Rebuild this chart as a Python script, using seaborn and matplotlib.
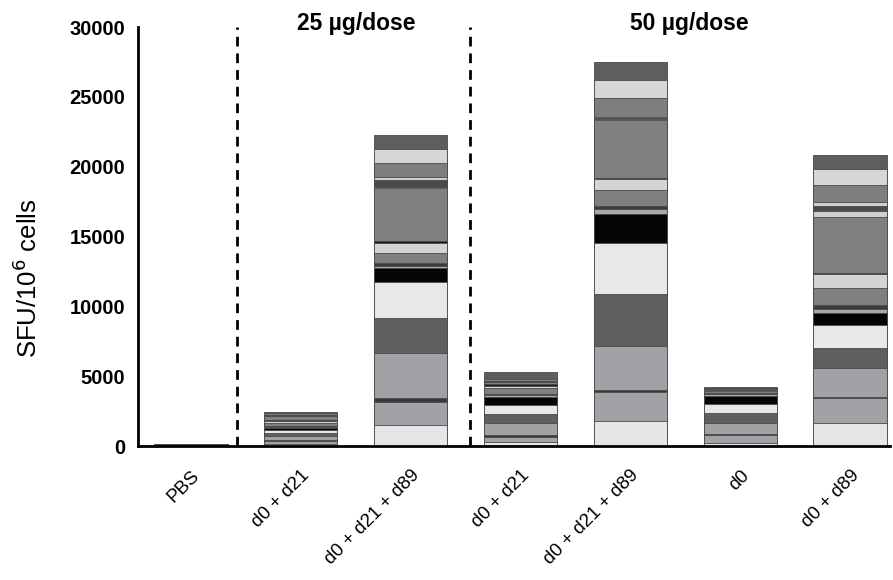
import matplotlib
matplotlib.use("Agg")
import matplotlib.pyplot as plt
import matplotlib.transforms as mtransforms
import seaborn as sns
import numpy as np

# ---- data ----
group_ids = ["g0", "g1", "g2", "g3", "g4", "g5", "g6"]
tick_labels = ["PBS", "d0 + d21", "d0 + d21 + d89", "d0 + d21",
               "d0 + d21 + d89", "d0", "d0 + d89"]
header_25 = "25 µg/dose"
header_50 = "50 µg/dose"

# peptide-pool fill colours, bottom -> top
pool_colors = ["#e6e6e6", "#a2a2a6", "#3a3a3a", "#a2a2a6", "#5f5f5f",
               "#e8e8e8", "#050505", "#a8a8a8", "#3c3c3c", "#7f7f7f",
               "#d4d4d4", "#1a1a1a", "#808080", "#cfcfcf", "#4a4a4a",
               "#cfcfcf", "#7e7e7e", "#d6d6d6", "#5e5e5e"]

# SFU/10^6 cells per pool, bottom -> top
pbs        = [30, 20, 20, 30, 20, 10, 10, 0, 0, 0, 0, 0, 0, 0, 0, 0, 0, 0, 0]
d25_2dose  = [150, 200, 60, 300, 250, 200, 150, 80, 60, 200, 120, 60, 300, 20, 60, 30, 100, 60, 60]
d25_3dose  = [1500, 1670, 240, 3230, 2500, 2620, 960, 180, 180, 760, 710, 100, 3810, 100, 480, 190, 1050, 960, 1020]
d50_2dose  = [310, 360, 120, 830, 650, 660, 560, 160, 100, 400, 150, 150, 100, 20, 80, 40, 100, 80, 400]
d50_3dose  = [1810, 2090, 110, 3170, 3680, 3690, 2060, 390, 150, 1180, 770, 100, 4150, 30, 110, 50, 1390, 1270, 1310]
d50_d0     = [200, 590, 70, 810, 670, 660, 580, 120, 120, 130, 40, 30, 60, 0, 30, 0, 20, 0, 70]
d50_d0d89  = [1620, 1830, 80, 2030, 1430, 1670, 840, 300, 290, 1200, 1010, 80, 4050, 430, 340, 240, 1260, 1120, 1030]

groups = [pbs, d25_2dose, d25_3dose, d50_2dose, d50_3dose, d50_d0, d50_d0d89]

# ---- figure ----
sns.set_style("white")
plt.rcParams["font.family"] = ["Liberation Sans", "DejaVu Sans"]
plt.rcParams["text.color"] = "black"
plt.rcParams["axes.labelcolor"] = "black"
plt.rcParams["xtick.color"] = "black"
plt.rcParams["ytick.color"] = "black"

fig = plt.figure(figsize=(8.93, 5.80), dpi=100)
ax = fig.add_axes([0.1545, 0.231, 0.842, 0.7224])

vals = np.array(groups, dtype=float)          # groups x pools
cum = np.cumsum(vals, axis=1)
n_pools = vals.shape[1]
for k in range(n_pools - 1, -1, -1):
    sns.barplot(x=group_ids, y=cum[:, k], order=group_ids, color=pool_colors[k],
                saturation=1, width=0.67, edgecolor="#4a4a4a", linewidth=0.6,
                ax=ax, errorbar=None)

ax.set_ylim(0, 30000)
ax.set_xlim(-0.48, 6.36)
ax.set_yticks(np.arange(0, 30001, 5000))
ax.set_yticklabels([str(v) for v in range(0, 30001, 5000)],
                   fontsize=14.5, fontweight="bold", color="black")
ax.set_xticks(range(len(group_ids)))
ax.set_xticklabels(tick_labels, rotation=45, ha="right",
                   rotation_mode="anchor", fontsize=13.5, color="black")
offset = mtransforms.ScaledTranslation(6 / 72, 2 / 72, fig.dpi_scale_trans)
for lbl in ax.get_xticklabels():
    lbl.set_transform(lbl.get_transform() + offset)
ax.set_xlabel("")
ax.set_ylabel("SFU/10$^6$ cells", fontsize=18.5, color="black")
ax.yaxis.set_label_coords(-0.128, 0.40)

for s in ["top", "right"]:
    ax.spines[s].set_visible(False)
for s in ["left", "bottom"]:
    ax.spines[s].set_linewidth(2)
    ax.spines[s].set_color("black")
ax.tick_params(axis="both", direction="out", length=7, width=2,
               colors="black", pad=2)
ax.tick_params(axis="x", pad=8)

for xv in [0.42, 2.54]:
    ax.axvline(xv, color="black", linestyle=(0, (3.5, 2.5)), linewidth=2)

ax.text(1.51, 30250, header_25, ha="center", va="center",
        fontsize=16.5, fontweight="bold", color="black")
ax.text(4.54, 30250, header_50, ha="center", va="center",
        fontsize=16.5, fontweight="bold", color="black")

fig.savefig("out.png", dpi=100)
